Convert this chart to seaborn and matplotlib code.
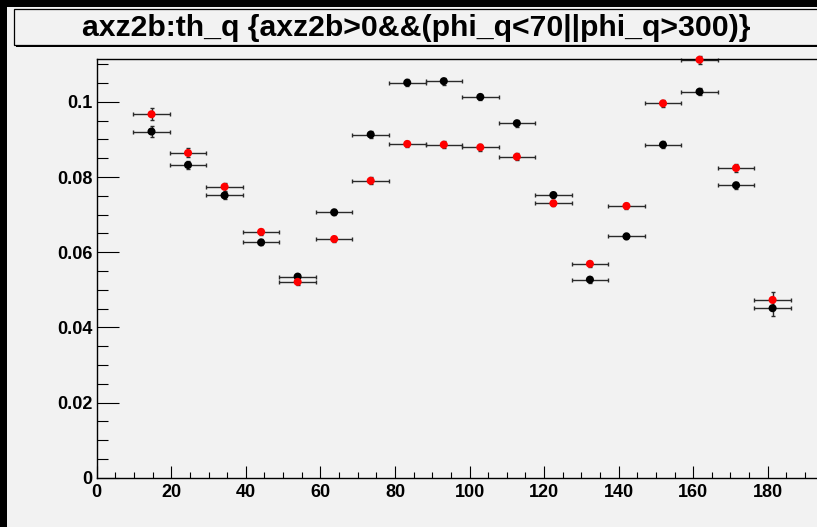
import numpy as np
import pandas as pd
import matplotlib
matplotlib.use("Agg")
import matplotlib.pyplot as plt
import seaborn as sns
from matplotlib import font_manager
from matplotlib.patches import Rectangle

# ---------------- data ----------------
title_text = "axz2b:th_q {axz2b>0&&(phi_q<70||phi_q>300)}"
bin_centers = [14.7, 24.5, 34.3, 44.1, 53.9, 63.7, 73.5, 83.3, 93.1, 102.9,
               112.7, 122.5, 132.3, 142.1, 151.9, 161.7, 171.5, 181.3]
bin_half_width = [4.9] * 18
y_black = [0.0921, 0.0832, 0.0751, 0.0626, 0.0535, 0.0706, 0.0913, 0.1051, 0.1055,
           0.1013, 0.0943, 0.0752, 0.0527, 0.0642, 0.0886, 0.1027, 0.0778, 0.0451]
y_red = [0.0967, 0.0864, 0.0774, 0.0654, 0.0521, 0.0635, 0.0790, 0.0888, 0.0886,
         0.0879, 0.0854, 0.0730, 0.0569, 0.0723, 0.0996, 0.1112, 0.0824, 0.0473]
err_black = [0.0015, 0.0011, 0.0009, 0.0008, 0.0008, 0.0008, 0.0009, 0.0009, 0.0009,
             0.0009, 0.0009, 0.0008, 0.0008, 0.0008, 0.0009, 0.0009, 0.0009, 0.0021]
err_red = [0.0016, 0.0012, 0.0010, 0.0009, 0.0008, 0.0008, 0.0009, 0.0009, 0.0009,
           0.0009, 0.0009, 0.0008, 0.0008, 0.0009, 0.0010, 0.0010, 0.0010, 0.0022]
x_ticks = [0, 20, 40, 60, 80, 100, 120, 140, 160, 180]
x_tick_labels = ["0", "20", "40", "60", "80", "100", "120", "140", "160", "180"]
y_ticks = [0, 0.02, 0.04, 0.06, 0.08, 0.1]
y_tick_labels = ["0", "0.02", "0.04", "0.06", "0.08", "0.1"]

df = pd.DataFrame({
    "x": bin_centers * 2,
    "y": y_black + y_red,
    "series": ["black"] * len(y_black) + ["red"] * len(y_red),
})

# ---------------- style ----------------
sns.set_theme(style="ticks")
BG = "#f2f2f2"
def pick_font(names):
    for n in names:
        try:
            font_manager.findfont(n, fallback_to_default=False)
            return n
        except Exception:
            pass
    return "DejaVu Sans"
base_font = pick_font(["Liberation Sans", "Arial", "DejaVu Sans"])
title_font = pick_font(["Liberation Sans Narrow", "Liberation Sans", "DejaVu Sans"])
plt.rcParams["font.family"] = [base_font, "DejaVu Sans"]
plt.rcParams["text.color"] = "black"
plt.rcParams["xtick.color"] = "black"
plt.rcParams["ytick.color"] = "black"
plt.rcParams["xtick.labelcolor"] = "black"
plt.rcParams["ytick.labelcolor"] = "black"

W, H, DPI = 817, 527, 100
fig = plt.figure(figsize=(W / DPI, H / DPI), dpi=DPI, facecolor=BG)

# black canvas border (top and left)
fig.patches.append(Rectangle((0, 1 - 7 / H), 1, 7 / H, transform=fig.transFigure,
                             facecolor="black", edgecolor="none", zorder=0))
fig.patches.append(Rectangle((0, 0), 7 / W, 1, transform=fig.transFigure,
                             facecolor="black", edgecolor="none", zorder=0))

# title box with shadow
bx0, by0, bx1, by1 = 14, 8.5, 819, 45
fig.patches.append(Rectangle(((bx0 + 2) / W, 1 - (by1 + 2) / H), (bx1 - bx0) / W, (by1 - by0) / H,
                             transform=fig.transFigure, facecolor="black", edgecolor="none", zorder=1))
fig.patches.append(Rectangle((bx0 / W, 1 - by1 / H), (bx1 - bx0) / W, (by1 - by0) / H,
                             transform=fig.transFigure, facecolor=BG, edgecolor="black",
                             linewidth=0.9, zorder=2))
t = fig.text((83 + 750) / 2 / W, 1 - 27.5 / H, title_text, ha="center", va="center",
             fontsize=20, fontweight="bold", color="black",
             family=[title_font, "DejaVu Sans"], zorder=3)
fig.canvas.draw()
bb = t.get_window_extent()
t.set_fontsize(20 * (750 - 83) / bb.width)

# axes
left_px, right_px, top_px, bottom_px = 96.7, 827.4, 59.0, 477.7
ax = fig.add_axes([left_px / W, 1 - bottom_px / H, (right_px - left_px) / W, (bottom_px - top_px) / H])
ax.set_facecolor(BG)

ax.errorbar(bin_centers, y_black, xerr=bin_half_width, yerr=err_black, fmt="none",
            ecolor="#2a2a2a", elinewidth=1.0, capsize=1.3, capthick=1.0, zorder=2, clip_on=False)
ax.errorbar(bin_centers, y_red, xerr=bin_half_width, yerr=err_red, fmt="none",
            ecolor="#2a2a2a", elinewidth=1.0, capsize=1.3, capthick=1.0, zorder=2, clip_on=False)
sns.scatterplot(data=df, x="x", y="y", hue="series", palette={"black": "black", "red": "#ff0000"},
                s=34, edgecolor="none", linewidth=0, legend=False, ax=ax, zorder=3, clip_on=False)

ax.set_xlim(0, 196)
ax.set_ylim(0, 0.1114)
ax.set_xlabel("")
ax.set_ylabel("")
ax.set_xticks(x_ticks)
ax.set_xticklabels(x_tick_labels)
ax.set_yticks(y_ticks)
ax.set_yticklabels(y_tick_labels)
ax.xaxis.set_minor_locator(matplotlib.ticker.MultipleLocator(5))
ax.yaxis.set_minor_locator(matplotlib.ticker.MultipleLocator(0.005))
ax.tick_params(axis="both", which="both", direction="in", color="black", width=0.8,
               top=False, right=False, labelcolor="black")
ax.tick_params(axis="y", which="major", length=15.6, pad=3, labelsize=13)
ax.tick_params(axis="y", which="minor", length=7.7)
ax.tick_params(axis="x", which="major", length=8.6, pad=4.5, labelsize=13)
ax.tick_params(axis="x", which="minor", length=4.3)
for lab in ax.get_xticklabels() + ax.get_yticklabels():
    lab.set_fontweight("bold")
for s in ["left", "bottom", "top", "right"]:
    ax.spines[s].set_color("black")
    ax.spines[s].set_linewidth(1.0)

fig.savefig("out.png", dpi=DPI, facecolor=BG)
